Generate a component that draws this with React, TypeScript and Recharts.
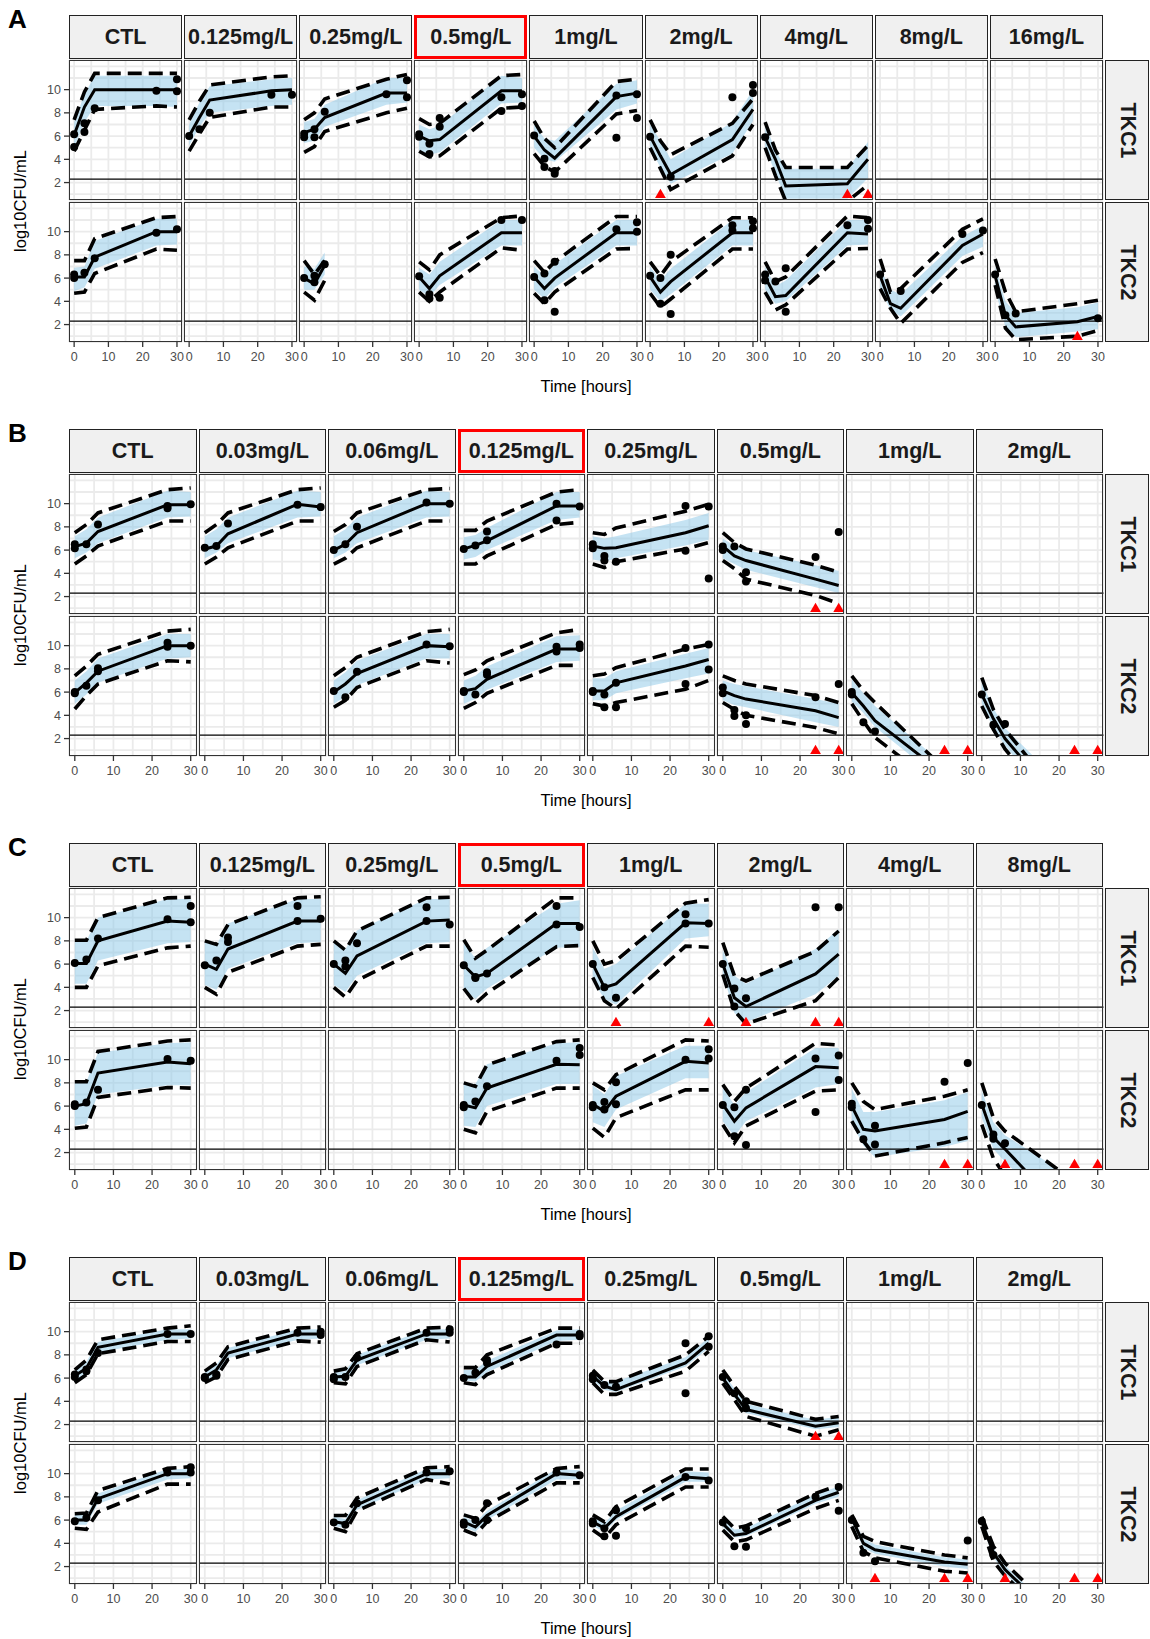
import React from 'react';
import { ComposedChart, Area, Line, Scatter, XAxis, YAxis, CartesianGrid, ReferenceLine } from 'recharts';

// sampling times (h) of the VPC summary lines
const TIMES = [0, 3, 6, 24, 30];
const LLOQ = 2.3;
const BLQ_Y = 1.0; // where BLQ samples are plotted
const X_LABELS = [0, 10, 20, 30];
const X_BREAKS = [0, 5, 10, 15, 20, 25, 30];
const Y_LABELS = [2, 4, 6, 8, 10];
const Y_BREAKS = [1, 2, 3, 4, 5, 6, 7, 8, 9, 10, 11, 12];
const X_DOMAIN = [-1.5, 31.5];
const Y_DOMAIN = [0.5, 12.55];
const ROW_NAMES = ['TKC1', 'TKC2'];

const CONC_A = ['CTL', '0.125mg/L', '0.25mg/L', '0.5mg/L', '1mg/L', '2mg/L', '4mg/L', '8mg/L', '16mg/L'];
const CONC_B = ['CTL', '0.03mg/L', '0.06mg/L', '0.125mg/L', '0.25mg/L', '0.5mg/L', '1mg/L', '2mg/L'];
const CONC_C = ['CTL', '0.125mg/L', '0.25mg/L', '0.5mg/L', '1mg/L', '2mg/L', '4mg/L', '8mg/L'];
const CONC_D = ['CTL', '0.03mg/L', '0.06mg/L', '0.125mg/L', '0.25mg/L', '0.5mg/L', '1mg/L', '2mg/L'];

// ---------- A, TKC1 ----------
const A1_MED = [[6.1, 8.5, 10.0, 10.0, 10.0], [6.0, 7.6, 9.1, 9.9, 10.0], [6.3, 6.6, 7.6, 9.7, 9.7], [6.0, 5.6, 5.7, 9.9, 9.9], [6.0, 4.8, 4.1, 9.4, 9.7], [6.0, 4.3, 2.7, 5.7, 8.3], [5.9, 4.0, 1.7, 1.9, 4.0], null, null];
const A1_P05 = [[4.7, 6.5, 8.3, 8.6, 8.5], [4.7, 6.2, 7.6, 8.5, 8.5], [4.6, 5.1, 6.4, 8.0, 8.4], [4.7, 4.2, 4.3, 8.4, 8.5], [4.5, 3.4, 2.9, 7.9, 8.2], [5.0, 3.2, 1.4, 4.3, 7.0], [5.0, 2.6, 0.4, 0.4, 1.8], null, null];
const A1_P95 = [[7.4, 9.8, 11.4, 11.4, 11.4], [7.4, 9.0, 10.4, 11.1, 11.2], [7.4, 8.0, 9.2, 10.9, 11.3], [7.5, 7.0, 7.1, 11.2, 11.3], [7.3, 5.8, 5.0, 10.7, 10.9], [7.4, 5.6, 4.4, 7.1, 9.2], [7.2, 4.8, 3.3, 3.3, 5.2], null, null];
const A1_PI_LO = [[5.0, 7.2, 8.6, 8.6, 8.5], [5.2, 6.8, 8.0, 8.6, 8.7], [5.4, 5.6, 6.8, 8.7, 8.9], [4.8, 4.4, 4.6, 8.8, 8.9], [5.0, 4.0, 3.8, 8.3, 8.8], [5.0, 3.3, 1.9, 4.5, 7.3], [5.0, 2.8, 0.6, 0.6, 2.4], null, null];
const A1_PI_HI = [[7.2, 9.6, 11.2, 11.2, 11.2], [7.0, 8.9, 10.3, 10.9, 11.0], [7.2, 7.5, 8.7, 11.0, 11.0], [7.0, 6.6, 6.9, 11.2, 11.0], [7.0, 5.8, 5.6, 10.5, 10.8], [7.0, 5.6, 4.0, 7.2, 10.0], [7.0, 4.8, 3.2, 3.2, 5.5], null, null];
const A1_OBS = [
  [[0, 6.15], [0, 5.07], [3, 7.1], [3, 6.35], [6, 8.4], [24, 9.9], [30, 10.9], [30, 9.85]],
  [[0, 6.0], [3, 6.6], [6, 8.0], [24, 9.55], [30, 9.55]],
  [[0, 6.2], [0, 5.9], [3, 6.6], [3, 5.9], [6, 8.1], [24, 9.6], [30, 10.8], [30, 9.35]],
  [[0, 6.15], [0, 5.95], [3, 5.35], [3, 4.45], [6, 7.55], [6, 6.8], [24, 9.35], [24, 8.15], [30, 9.6], [30, 8.6]],
  [[0, 6.05], [3, 4.05], [3, 3.35], [6, 3.0], [6, 2.75], [24, 9.5], [24, 5.85], [30, 9.6], [30, 7.55]],
  [[0, 5.95], [6, 2.5], [24, 9.35], [30, 10.4], [30, 9.7]],
  [[0, 5.9]],
  [], [],
];
const A1_BLQ = [[], [], [], [], [], [3], [24, 30], [], []];

// ---------- A, TKC2 ----------
const A2_MED = [[6.1, 6.1, 7.8, 10.0, 10.0], null, [6.0, 5.5, 7.1], [6.1, 5.1, 6.2, 9.9, 9.9], [6.1, 5.1, 6.0, 9.9, 9.9], [6.1, 4.8, 5.7, 9.9, 9.9], [6.1, 4.4, 4.5, 9.9, 9.8], [6.2, 3.8, 3.4, 8.8, 9.8], [6.2, 2.8, 1.8, 2.25, 2.7]];
const A2_P05 = [[4.7, 4.8, 6.4, 8.5, 8.4], null, [4.8, 4.1, 5.8], [4.8, 4.0, 4.8, 8.6, 8.4], [4.7, 3.8, 4.8, 8.5, 8.55], [4.7, 3.5, 4.2, 8.5, 8.5], [4.8, 3.25, 3.7, 8.5, 8.55], [5.1, 3.4, 2.1, 7.35, 8.2], [5.4, 1.7, 0.7, 1.0, 1.5]];
const A2_P95 = [[7.5, 7.5, 9.4, 11.2, 11.3], null, [7.5, 6.3, 7.5], [7.4, 6.7, 8.0, 11.2, 11.35], [7.5, 6.5, 7.4, 11.3, 11.3], [7.4, 6.2, 7.4, 11.2, 11.2], [7.4, 5.7, 6.1, 11.35, 11.2], [7.65, 4.8, 5.1, 10.2, 11.1], [7.65, 4.8, 3.1, 3.8, 4.1]];
const A2_PI_LO = [[4.9, 5.2, 6.8, 8.8, 8.9], null, [5.0, 5.0, 6.3], [5.0, 4.4, 5.4, 8.8, 8.8], [5.0, 4.2, 5.2, 8.8, 8.8], [5.0, 4.0, 4.6, 8.8, 8.8], [5.0, 3.8, 4.0, 8.8, 8.9], [5.0, 3.3, 2.7, 7.9, 8.7], [5.0, 1.8, 0.9, 1.4, 1.6]];
const A2_PI_HI = [[6.9, 7.0, 9.2, 11.1, 11.1], null, [7.0, 6.8, 8.2], [6.9, 6.3, 7.4, 11.0, 11.0], [7.0, 6.2, 7.2, 11.0, 11.0], [7.0, 5.8, 6.8, 11.0, 11.0], [7.0, 5.3, 5.8, 11.0, 11.0], [6.9, 5.0, 4.6, 9.6, 10.5], [7.0, 4.0, 3.0, 3.5, 3.9]];
const A2_OBS = [
  [[0, 6.3], [0, 6.0], [3, 6.45], [6, 7.7], [24, 9.9], [30, 10.2]],
  [],
  [[0, 6.0], [3, 6.2], [3, 5.65], [6, 7.2]],
  [[0, 6.15], [3, 4.6], [3, 4.25], [6, 4.3], [24, 11.0], [30, 11.0]],
  [[0, 6.1], [3, 6.4], [3, 4.1], [6, 7.4], [6, 3.1], [24, 10.2], [30, 10.8], [30, 10.0]],
  [[0, 6.2], [3, 6.0], [3, 3.8], [6, 8.0], [6, 2.9], [24, 10.55], [24, 10.1], [30, 10.9], [30, 10.3]],
  [[0, 6.3], [0, 5.8], [3, 5.7], [6, 6.85], [6, 3.1], [24, 10.55], [30, 11.0], [30, 10.25]],
  [[0, 6.3], [6, 4.9], [24, 9.8], [30, 10.1]],
  [[0, 6.3], [3, 2.8], [6, 2.95], [30, 2.55]],
];
const A2_BLQ = [[], [], [], [], [], [], [], [], [24]];

// ---------- B, TKC1 ----------
const B1_MED = [[6.3, 6.6, 7.6, 9.9, 9.9], [6.1, 6.35, 7.4, 9.95, 9.7], [6.0, 6.5, 7.5, 10.0, 10.0], [6.1, 6.4, 6.8, 9.8, 9.8], [6.35, 6.15, 6.2, 7.5, 8.1], [6.35, 5.5, 5.1, 3.5, 2.95], null, null];
const B1_P05 = [[4.8, 5.5, 6.35, 8.5, 8.5], [4.8, 5.4, 6.2, 8.5, 8.5], [4.8, 5.3, 6.2, 8.5, 8.5], [4.8, 4.8, 5.5, 8.2, 8.4], [4.8, 4.5, 5.0, 6.1, 6.65], [5.1, 4.4, 3.5, 2.1, 1.4], null, null];
const B1_P95 = [[7.5, 8.2, 9.2, 11.2, 11.35], [7.5, 8.2, 9.2, 11.2, 11.35], [7.6, 8.2, 9.2, 11.2, 11.3], [7.7, 7.7, 8.5, 11.0, 11.2], [7.5, 7.35, 7.9, 9.35, 9.95], [7.5, 6.65, 6.1, 4.7, 4.1], null, null];
const B1_PI_LO = [[5.3, 5.8, 6.6, 8.8, 8.9], [5.3, 5.8, 6.6, 8.8, 8.9], [5.3, 5.8, 6.6, 8.8, 8.9], [5.2, 5.4, 6.0, 8.6, 8.8], [5.2, 5.0, 5.3, 6.4, 6.9], [5.3, 4.8, 4.3, 2.8, 2.3], null, null];
const B1_PI_HI = [[7.2, 7.8, 8.8, 11.1, 11.0], [7.2, 7.8, 8.8, 11.1, 11.0], [7.2, 7.8, 8.8, 11.1, 11.0], [7.1, 7.3, 7.9, 11.0, 11.0], [7.2, 7.0, 7.2, 8.6, 9.2], [7.0, 6.4, 6.0, 4.7, 4.2], null, null];
const B1_OBS = [
  [[0, 6.5], [0, 6.15], [3, 6.5], [6, 8.2], [24, 9.8], [24, 9.6], [30, 9.95]],
  [[0, 6.2], [3, 6.35], [6, 8.3], [24, 9.9], [30, 9.7]],
  [[0, 6.0], [3, 6.5], [6, 8.0], [24, 10.1], [30, 10.0]],
  [[0, 6.1], [3, 6.4], [6, 7.6], [6, 6.85], [24, 10.0], [24, 8.55], [30, 9.75]],
  [[0, 6.5], [0, 6.15], [3, 5.5], [3, 5.1], [6, 5.0], [24, 9.8], [24, 5.95], [30, 9.75], [30, 3.55]],
  [[0, 6.3], [0, 6.0], [3, 6.3], [6, 4.1], [6, 3.3], [24, 5.4], [30, 7.55]],
  [], [],
];
const B1_BLQ = [[], [], [], [], [], [24, 30], [], []];

// ---------- B, TKC2 ----------
const B2_MED = [[5.95, 6.8, 7.8, 10.0, 10.0], null, [6.0, 6.7, 7.6, 10.0, 9.9], [6.1, 6.3, 7.1, 9.7, 9.7], [6.1, 6.1, 6.8, 8.25, 8.8], [6.1, 5.7, 5.4, 4.4, 3.8], [5.95, 4.8, 3.55, -1.1, -2.6], [5.8, 3.7, 2.0, -5.0, -7.3]];
const B2_P05 = [[4.55, 5.7, 6.7, 8.7, 8.6], null, [4.7, 5.3, 6.4, 8.7, 8.5], [4.6, 5.1, 5.9, 8.3, 8.3], [5.0, 4.8, 5.1, 6.25, 7.0], [5.1, 4.5, 4.0, 2.95, 2.4], [5.0, 3.5, 2.1, -2.5, -4.0], [4.8, 2.8, 1.1, -6.0, -8.0]];
const B2_P95 = [[7.4, 8.25, 9.25, 11.25, 11.4], null, [7.4, 8.1, 9.0, 11.2, 11.4], [7.5, 7.9, 8.7, 11.1, 11.4], [7.4, 7.55, 8.1, 9.7, 10.1], [7.4, 7.0, 6.7, 5.7, 5.1], [7.4, 6.1, 5.1, -0.6, -2.5], [7.25, 4.5, 2.8, -4.6, -6.8]];
const B2_PI_LO = [[5.0, 5.8, 6.8, 8.9, 9.0], null, [5.0, 5.6, 6.6, 8.9, 8.9], [5.0, 5.4, 6.2, 8.6, 8.7], [5.3, 5.3, 5.9, 7.2, 7.6], [5.3, 4.9, 4.7, 3.4, 3.0], [5.2, 4.2, 3.0, -1.8, -3.5], [5.0, 2.9, 1.4, -6.0, -8.0]];
const B2_PI_HI = [[7.0, 7.8, 8.9, 11.0, 11.0], null, [7.0, 7.7, 8.7, 11.0, 11.0], [7.0, 7.4, 8.2, 10.8, 10.9], [7.2, 7.2, 7.8, 9.3, 9.8], [7.0, 6.7, 6.5, 5.4, 5.0], [7.1, 5.9, 4.8, -0.3, -2.0], [6.9, 4.6, 2.9, -3.0, -5.0]];
const B2_OBS = [
  [[0, 5.9], [0, 6.0], [3, 6.55], [6, 8.05], [6, 7.8], [24, 10.25], [24, 9.9], [30, 10.0]],
  [],
  [[0, 6.1], [3, 5.55], [6, 7.75], [24, 10.1], [30, 9.95]],
  [[0, 6.1], [0, 6.0], [3, 5.8], [6, 7.7], [6, 7.5], [24, 9.9], [24, 9.5], [30, 10.1], [30, 9.8]],
  [[0, 6.1], [0, 6.0], [3, 5.8], [3, 4.7], [6, 6.8], [6, 4.7], [24, 9.8], [24, 6.7], [30, 10.1], [30, 7.95]],
  [[0, 6.4], [0, 5.9], [3, 4.45], [3, 3.95], [6, 4.0], [6, 3.25], [24, 5.55], [30, 6.7]],
  [[0, 6.0], [0, 5.8], [3, 3.4], [6, 2.6]],
  [[0, 5.8], [3, 3.2], [6, 3.25]],
];
const B2_BLQ = [[], [], [], [], [], [24, 30], [24, 30], [24, 30]];

// ---------- C, TKC1 ----------
const C1_MED = [[6.05, 6.05, 8.0, 9.7, 9.6], [6.0, 5.55, 7.3, 9.7, 9.7], [6.0, 5.2, 6.7, 9.7, 9.8], [5.9, 4.9, 5.2, 9.5, 9.5], [6.0, 4.0, 4.3, 9.55, 9.5], [6.0, 3.1, 2.35, 5.15, 6.85], null, null];
const C1_P05 = [[4.0, 4.0, 5.85, 7.4, 7.55], [4.0, 3.4, 5.3, 7.55, 7.7], [4.0, 3.15, 4.6, 7.55, 7.55], [3.9, 2.6, 3.5, 7.5, 7.6], [4.85, 2.85, 2.15, 7.55, 7.45], [5.1, 2.0, 0.85, 2.85, 4.85], null, null];
const C1_P95 = [[8.05, 8.05, 10.0, 11.7, 11.75], [8.0, 7.7, 9.4, 11.7, 11.8], [8.0, 7.2, 8.85, 11.7, 11.75], [8.1, 6.5, 7.2, 11.7, 11.7], [8.0, 6.0, 6.3, 11.25, 11.55], [7.85, 5.0, 4.55, 7.1, 8.85], null, null];
const C1_PI_LO = [[4.3, 4.3, 6.3, 7.8, 7.9], [4.2, 3.8, 5.6, 7.8, 7.9], [4.2, 3.6, 5.0, 7.8, 7.9], [3.8, 3.0, 3.9, 7.4, 7.5], [4.6, 3.0, 2.5, 8.2, 8.4], [5.2, 1.8, 1.0, 3.4, 5.0], null, null];
const C1_PI_HI = [[7.9, 8.0, 10.0, 11.6, 11.6], [7.9, 7.6, 9.5, 11.6, 11.6], [7.9, 7.3, 8.9, 11.6, 11.6], [7.8, 6.5, 7.4, 11.2, 11.5], [7.4, 5.6, 6.0, 11.2, 11.2], [7.2, 5.0, 4.3, 7.3, 9.0], null, null];
const C1_OBS = [
  [[0, 6.1], [3, 6.4], [6, 8.2], [24, 9.85], [30, 11.0], [30, 9.6]],
  [[0, 5.9], [3, 6.3], [6, 8.3], [6, 7.9], [24, 11.0], [24, 9.7], [30, 9.9]],
  [[0, 6.0], [3, 6.3], [3, 5.8], [6, 7.8], [24, 10.9], [24, 9.7], [30, 9.4]],
  [[0, 5.9], [3, 4.9], [3, 4.8], [6, 5.2], [24, 11.0], [24, 9.4], [30, 9.2]],
  [[0, 6.0], [3, 4.0], [6, 3.1], [24, 10.3], [24, 9.5], [30, 9.5]],
  [[0, 6.0], [3, 3.9], [3, 2.35], [6, 3.05], [24, 10.9], [30, 10.9]],
  [], [],
];
const C1_BLQ = [[], [], [], [], [6, 30], [6, 24, 30], [], []];

// ---------- C, TKC2 ----------
const C2_MED = [[6.0, 6.2, 8.85, 9.8, 9.65], null, null, [6.1, 5.85, 7.55, 9.6, 9.55], [6.15, 5.55, 6.85, 9.85, 9.7], [6.15, 4.7, 5.85, 9.4, 9.3], [6.0, 4.0, 3.85, 4.85, 5.55], [6.15, 3.3, 2.3, -4.0, -6.0]];
const C2_P05 = [[4.1, 4.2, 6.75, 7.6, 7.55], null, null, [4.0, 3.7, 5.55, 7.55, 7.55], [4.1, 3.3, 5.0, 7.4, 7.4], [4.4, 2.85, 4.3, 7.3, 7.4], [4.7, 3.0, 1.7, 2.85, 3.3], [4.4, 1.5, 0.0, -5.0, -7.0]];
const C2_P95 = [[8.1, 8.1, 10.7, 11.6, 11.7], null, null, [8.0, 7.7, 9.55, 11.55, 11.7], [8.0, 7.4, 8.7, 11.7, 11.6], [7.85, 6.4, 7.55, 11.4, 11.25], [8.0, 6.4, 5.7, 6.85, 7.4], [8.0, 5.0, 3.85, -0.5, -2.0]];
const C2_PI_LO = [[4.3, 4.5, 7.0, 7.8, 7.8], null, null, [4.3, 4.2, 6.0, 7.9, 7.9], [4.6, 4.2, 5.7, 8.4, 8.4], [4.7, 3.4, 4.7, 7.6, 7.9], [4.5, 2.6, 1.6, 2.5, 3.0], [5.0, 2.3, 1.2, -4.5, -6.5]];
const C2_PI_HI = [[8.0, 8.1, 10.6, 11.4, 11.5], null, null, [8.0, 7.9, 9.6, 11.4, 11.5], [7.8, 7.0, 8.6, 11.2, 11.2], [7.6, 6.1, 7.2, 11.0, 11.0], [7.5, 5.5, 5.5, 6.5, 7.2], [7.3, 4.6, 3.5, -0.3, -2.0]];
const C2_OBS = [
  [[0, 6.15], [0, 6.0], [3, 6.3], [6, 7.4], [24, 10.05], [30, 9.9]],
  [], [],
  [[0, 6.1], [0, 5.9], [3, 6.4], [6, 7.7], [24, 9.9], [30, 11.0], [30, 10.4]],
  [[0, 6.1], [0, 5.9], [3, 6.35], [3, 5.7], [6, 8.05], [6, 6.15], [24, 10.0], [30, 10.9], [30, 10.1]],
  [[0, 6.1], [3, 5.9], [3, 3.4], [6, 7.4], [6, 2.65], [24, 10.1], [24, 5.5], [30, 10.35], [30, 8.25]],
  [[0, 6.2], [0, 5.9], [3, 3.15], [6, 4.3], [6, 2.7], [24, 8.1], [30, 9.7]],
  [[0, 6.1], [3, 3.55], [3, 3.2], [6, 2.8]],
];
const C2_BLQ = [[], [], [], [], [], [], [24, 30], [6, 24, 30]];

// ---------- D, TKC1 ----------
const D1_MED = [[6.2, 6.85, 8.65, 9.8, 9.8], [6.1, 6.7, 8.15, 9.8, 9.8], [6.1, 6.15, 7.55, 9.8, 9.8], [6.1, 6.1, 7.0, 9.7, 9.7], [6.15, 5.3, 5.0, 7.3, 9.0], [6.0, 4.6, 3.3, 1.85, 2.15], null, null];
const D1_P05 = [[5.6, 6.3, 8.1, 9.15, 9.15], [5.6, 6.1, 7.6, 9.2, 9.1], [5.6, 5.5, 7.0, 9.3, 9.1], [5.6, 5.45, 6.3, 9.0, 9.0], [5.6, 4.6, 4.6, 6.6, 8.3], [5.55, 4.15, 2.7, 1.0, 1.55], null, null];
const D1_P95 = [[6.7, 7.55, 9.3, 10.3, 10.5], [6.6, 7.3, 8.7, 10.3, 10.4], [6.6, 6.8, 8.1, 10.3, 10.4], [6.9, 6.9, 8.0, 10.3, 10.3], [6.7, 5.7, 5.7, 8.0, 9.6], [6.7, 5.3, 4.0, 2.45, 2.7], null, null];
const D1_PI_LO = [[5.8, 6.4, 8.2, 9.3, 9.4], [5.7, 6.3, 7.7, 9.3, 9.4], [5.7, 5.8, 7.1, 9.3, 9.4], [5.8, 5.7, 6.5, 9.2, 9.3], [5.8, 5.0, 4.8, 7.0, 8.6], [5.7, 4.3, 3.0, 1.6, 1.8], null, null];
const D1_PI_HI = [[6.6, 7.4, 9.1, 10.2, 10.2], [6.5, 7.1, 8.6, 10.2, 10.2], [6.5, 6.6, 8.0, 10.2, 10.2], [6.7, 6.7, 7.5, 10.1, 10.2], [6.6, 5.7, 5.7, 7.8, 9.5], [6.5, 5.1, 3.8, 2.4, 2.7], null, null];
const D1_OBS = [
  [[0, 6.3], [0, 6.1], [3, 6.75], [3, 6.6], [6, 8.15], [24, 9.8], [30, 9.8]],
  [[0, 6.1], [0, 6.0], [3, 6.3], [3, 6.2], [24, 9.9], [30, 10.0], [30, 9.7]],
  [[0, 6.1], [0, 5.9], [3, 6.1], [6, 7.75], [24, 9.9], [30, 10.2], [30, 9.9]],
  [[0, 6.0], [3, 6.45], [6, 7.55], [6, 7.3], [24, 8.9], [30, 9.6], [30, 9.8]],
  [[0, 6.2], [0, 5.9], [3, 5.4], [6, 5.25], [24, 9.0], [24, 4.7], [30, 9.6], [30, 8.7]],
  [[0, 6.1], [3, 4.7], [6, 4.0], [6, 3.4]],
  [], [],
];
const D1_BLQ = [[], [], [], [], [], [24, 30], [], []];

// ---------- D, TKC2 ----------
const D2_MED = [[6.0, 6.0, 7.85, 10.0, 10.0], null, [5.85, 5.7, 7.3, 10.0, 10.0], [5.85, 5.4, 6.4, 10.0, 9.85], [5.85, 5.3, 6.3, 9.7, 9.55], [5.7, 4.7, 4.85, 7.7, 8.4], [6.15, 4.0, 3.45, 2.4, 2.2], [5.85, 3.2, 1.75, -4.0, -6.0]];
const D2_P05 = [[5.3, 5.2, 6.7, 9.1, 9.1], null, [5.3, 5.0, 6.8, 9.5, 9.1], [5.15, 4.75, 5.85, 9.2, 9.2], [5.15, 4.45, 5.6, 8.85, 8.85], [5.15, 4.15, 4.3, 7.0, 7.7], [5.45, 3.3, 2.75, 1.6, 1.45], [5.45, 2.45, 1.2, -4.5, -6.5]];
const D2_P95 = [[6.55, 6.6, 8.55, 10.45, 10.6], null, [6.4, 6.4, 7.9, 10.5, 10.6], [6.45, 6.15, 7.3, 10.45, 10.6], [6.45, 5.85, 7.15, 10.4, 10.4], [6.3, 5.3, 5.5, 8.3, 9.0], [6.45, 4.6, 4.15, 3.0, 2.75], [6.3, 3.75, 2.3, -3.5, -5.5]];
const D2_PI_LO = [[5.6, 5.6, 7.4, 9.5, 9.6], null, [5.5, 5.3, 6.9, 9.5, 9.6], [5.4, 5.0, 6.0, 9.5, 9.5], [5.5, 5.0, 6.0, 9.3, 9.3], [5.4, 4.5, 4.6, 7.4, 8.0], [5.8, 3.6, 3.1, 2.0, 1.8], [5.5, 2.8, 1.4, -4.5, -6.5]];
const D2_PI_HI = [[6.5, 6.4, 8.3, 10.4, 10.4], null, [6.3, 6.1, 7.7, 10.4, 10.4], [6.3, 5.8, 6.8, 10.4, 10.3], [6.3, 5.7, 6.8, 10.2, 10.1], [6.1, 5.2, 5.3, 8.2, 8.9], [6.5, 4.4, 3.9, 2.8, 2.6], [6.2, 3.6, 2.1, -3.5, -5.5]];
const D2_OBS = [
  [[0, 5.9], [3, 6.2], [6, 7.7], [24, 10.1], [30, 10.55], [30, 10.1]],
  [],
  [[0, 5.8], [3, 5.6], [6, 7.45], [24, 10.1], [30, 10.2]],
  [[0, 5.8], [0, 5.6], [3, 6.0], [6, 7.45], [6, 6.0], [24, 10.1], [30, 9.85]],
  [[0, 5.9], [0, 5.7], [3, 5.3], [3, 4.6], [6, 6.85], [6, 4.65], [24, 9.7], [30, 9.4]],
  [[0, 5.8], [3, 3.75], [6, 5.3], [6, 3.7], [24, 8.0], [30, 8.85], [30, 6.8]],
  [[0, 6.0], [3, 3.2], [6, 2.45], [30, 4.25]],
  [[0, 5.9], [3, 3.0]],
];
const D2_BLQ = [[], [], [], [], [], [], [6, 24, 30], [6, 24, 30]];

const PANELS = [
  { label: 'A', conc: CONC_A, highlight: 3, rows: [
    { med: A1_MED, lo: A1_P05, hi: A1_P95, piLo: A1_PI_LO, piHi: A1_PI_HI, obs: A1_OBS, blq: A1_BLQ },
    { med: A2_MED, lo: A2_P05, hi: A2_P95, piLo: A2_PI_LO, piHi: A2_PI_HI, obs: A2_OBS, blq: A2_BLQ },
  ] },
  { label: 'B', conc: CONC_B, highlight: 3, rows: [
    { med: B1_MED, lo: B1_P05, hi: B1_P95, piLo: B1_PI_LO, piHi: B1_PI_HI, obs: B1_OBS, blq: B1_BLQ },
    { med: B2_MED, lo: B2_P05, hi: B2_P95, piLo: B2_PI_LO, piHi: B2_PI_HI, obs: B2_OBS, blq: B2_BLQ },
  ] },
  { label: 'C', conc: CONC_C, highlight: 3, rows: [
    { med: C1_MED, lo: C1_P05, hi: C1_P95, piLo: C1_PI_LO, piHi: C1_PI_HI, obs: C1_OBS, blq: C1_BLQ },
    { med: C2_MED, lo: C2_P05, hi: C2_P95, piLo: C2_PI_LO, piHi: C2_PI_HI, obs: C2_OBS, blq: C2_BLQ },
  ] },
  { label: 'D', conc: CONC_D, highlight: 3, rows: [
    { med: D1_MED, lo: D1_P05, hi: D1_P95, piLo: D1_PI_LO, piHi: D1_PI_HI, obs: D1_OBS, blq: D1_BLQ },
    { med: D2_MED, lo: D2_P05, hi: D2_P95, piLo: D2_PI_LO, piHi: D2_PI_HI, obs: D2_OBS, blq: D2_BLQ },
  ] },
];

// ---------- layout ----------
const FONT = '"Liberation Sans", Arial, Helvetica, sans-serif';
const PANEL_TOP0 = 15;
const PANEL_STEP = 414;
const LEFT = 69;
const RIGHT = 1103;
const GAP = 2;
const STRIP_H = 44;
const ROW_OFF = [45, 187];
const ROW_H = 140;
const Y_AXIS_W = 40;
const X_AXIS_H = 32;
const RIBBON = '#8CC8E8';
const BORDER = '#333333';

const XTick = (props: any) => {
  const { x, y, payload } = props;
  if (!X_LABELS.includes(payload.value)) return <g />;
  return (
    <g>
      <line x1={x} x2={x} y1={y} y2={y + 5} stroke={BORDER} strokeWidth={1.3} />
      <text x={x} y={y + 19} textAnchor="middle" fontSize={12.5} fontFamily={FONT} fill="#4D4D4D">{payload.value}</text>
    </g>
  );
};

const YTick = (props: any) => {
  const { x, y, payload } = props;
  if (!Y_LABELS.includes(payload.value)) return <g />;
  return (
    <g>
      <line x1={x - 5} x2={x} y1={y} y2={y} stroke={BORDER} strokeWidth={1.3} />
      <text x={x - 8} y={y + 4.5} textAnchor="end" fontSize={12.5} fontFamily={FONT} fill="#4D4D4D">{payload.value}</text>
    </g>
  );
};

const dotShape = (p: any) => <circle cx={p.cx} cy={p.cy} r={4} fill="#000000" />;
const triShape = (p: any) => (
  <polygon points={`${p.cx},${p.cy - 5.5} ${p.cx - 5.4},${p.cy + 3.8} ${p.cx + 5.4},${p.cy + 3.8}`} fill="#FF0000" />
);

function FacetCell({ row, ci, left, top, width, showX, showY }: any) {
  const med = row.med[ci];
  const data = med
    ? med.map((m: number, i: number) => ({ t: TIMES[i], med: m, lo: row.lo[ci][i], hi: row.hi[ci][i], pi: [row.piLo[ci][i], row.piHi[ci][i]] }))
    : TIMES.map((t) => ({ t }));
  const obs = (row.obs[ci] || []).map(([t, y]: number[]) => ({ t, y }));
  const blq = (row.blq[ci] || []).map((t: number) => ({ t, y: BLQ_Y }));
  const yw = showY ? Y_AXIS_W : 0;
  return (
    <>
      <div style={{ position: 'absolute', left: left - yw, top }}>
        <ComposedChart width={width + yw} height={ROW_H + (showX ? X_AXIS_H : 0)} data={data} margin={{ top: 0, right: 0, bottom: 0, left: 0 }} style={{ overflow: 'visible' }}>
          <CartesianGrid stroke="#EBEBEB" strokeWidth={1.8} />
          <XAxis type="number" dataKey="t" domain={X_DOMAIN} ticks={X_BREAKS} interval={0} allowDataOverflow hide={!showX} height={X_AXIS_H} axisLine={false} tickLine={false} tickSize={0} tickMargin={0} tick={XTick} />
          <YAxis type="number" domain={Y_DOMAIN} ticks={Y_BREAKS} interval={0} allowDataOverflow hide={!showY} width={Y_AXIS_W} axisLine={false} tickLine={false} tickSize={0} tickMargin={0} tick={YTick} />
          {med && <Area type="linear" dataKey="pi" stroke="none" fill={RIBBON} fillOpacity={0.5} isAnimationActive={false} />}
          <ReferenceLine y={LLOQ} stroke="#000000" strokeWidth={1.3} />
          {med && <Line type="linear" dataKey="lo" stroke="#000000" strokeWidth={3.6} strokeDasharray="14 7" dot={false} isAnimationActive={false} />}
          {med && <Line type="linear" dataKey="hi" stroke="#000000" strokeWidth={3.6} strokeDasharray="14 7" dot={false} isAnimationActive={false} />}
          {med && <Line type="linear" dataKey="med" stroke="#000000" strokeWidth={3} dot={false} isAnimationActive={false} />}
          {obs.length > 0 && <Scatter data={obs} dataKey="y" shape={dotShape} isAnimationActive={false} />}
          {blq.length > 0 && <Scatter data={blq} dataKey="y" shape={triShape} isAnimationActive={false} />}
        </ComposedChart>
      </div>
      <div style={{ position: 'absolute', left, top, width, height: ROW_H, border: `1.5px solid ${BORDER}`, boxSizing: 'border-box', pointerEvents: 'none' }} />
    </>
  );
}

function FacetPanel({ panel, index }: any) {
  const S = PANEL_TOP0 + index * PANEL_STEP;
  const n = panel.conc.length;
  const pitch = (RIGHT - LEFT + GAP) / n;
  const pw = pitch - GAP;
  const cells: any[] = [];
  panel.rows.forEach((row: any, ri: number) => {
    panel.conc.forEach((_: string, ci: number) => {
      cells.push(
        <FacetCell key={`${ri}-${ci}`} row={row} ci={ci} left={LEFT + ci * pitch} top={S + ROW_OFF[ri]} width={pw} showX={ri === 1} showY={ci === 0} />
      );
    });
  });
  return (
    <>
      <div style={{ position: 'absolute', left: 8, top: S - 9, fontSize: 26, lineHeight: '26px', fontWeight: 'bold', fontFamily: FONT, color: '#000' }}>{panel.label}</div>
      {panel.conc.map((c: string, ci: number) => (
        <div key={c} style={{
          position: 'absolute', left: LEFT + ci * pitch, top: S, width: pw, height: STRIP_H, boxSizing: 'border-box',
          background: '#F0F0F0', border: ci === panel.highlight ? '3px solid #FF0000' : `1.5px solid #222222`,
          display: 'flex', alignItems: 'center', justifyContent: 'center',
          fontFamily: FONT, fontWeight: 'bold', fontSize: 21.5, color: '#1A1A1A', whiteSpace: 'nowrap', overflow: 'visible',
        }}>{c}</div>
      ))}
      {ROW_NAMES.map((r, ri) => (
        <div key={r} style={{
          position: 'absolute', left: RIGHT + GAP, top: S + ROW_OFF[ri], width: 1150 - RIGHT - GAP - 1, height: ROW_H, boxSizing: 'border-box',
          background: '#F0F0F0', border: `1.5px solid #222222`, display: 'flex', alignItems: 'center', justifyContent: 'center',
        }}>
          <div style={{ transform: 'rotate(90deg)', fontFamily: FONT, fontWeight: 'bold', fontSize: 21.5, color: '#1A1A1A', whiteSpace: 'nowrap' }}>{r}</div>
        </div>
      ))}
      {cells}
      <div style={{ position: 'absolute', left: 20 - 80, top: S + (ROW_OFF[0] + ROW_OFF[1] + ROW_H) / 2 - 10, width: 160, height: 20, textAlign: 'center', transform: 'rotate(-90deg)', fontFamily: FONT, fontSize: 16.5, lineHeight: '20px', color: '#000' }}>log10CFU/mL</div>
      <div style={{ position: 'absolute', left: LEFT, width: RIGHT - LEFT, top: S + ROW_OFF[1] + ROW_H + 34, textAlign: 'center', fontFamily: FONT, fontSize: 16.5, lineHeight: '20px', color: '#000' }}>Time [hours]</div>
    </>
  );
}

export default function App() {
  return (
    <div style={{ position: 'absolute', left: 0, top: 0, width: 1150, height: 1639, background: '#FFFFFF', overflow: 'hidden' }}>
      <style>{'.recharts-wrapper, .recharts-surface { overflow: visible !important; }'}</style>
      {PANELS.map((p, i) => <FacetPanel key={p.label} panel={p} index={i} />)}
    </div>
  );
}
